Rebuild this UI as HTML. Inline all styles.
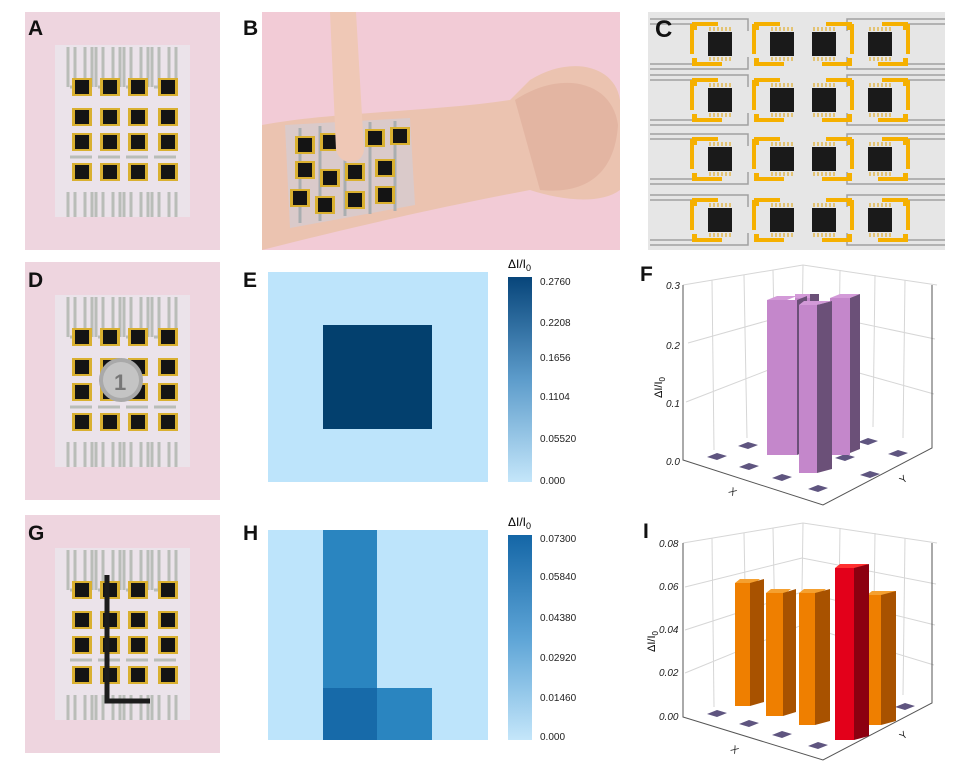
<!DOCTYPE html>
<html><head><meta charset="utf-8"><style>
html,body{margin:0;padding:0;background:#fff;}
svg{display:block;font-family:"Liberation Sans",Arial,sans-serif;}
.lb{font-weight:bold;font-size:21px;fill:#111}
.tk{font-size:10px;fill:#222}
</style></head><body>
<svg width="955" height="776" viewBox="0 0 955 776" xmlns="http://www.w3.org/2000/svg">
<defs>
<g id="dev"><rect x="-10" y="-9" width="20" height="18" fill="#d9b030"/><rect x="-7" y="-7" width="14" height="14" fill="#141414"/></g>
<g id="cdev"><path d="M-30,-20 h26 M-30,-20 v30 M-30,20 h30" stroke="#f5b000" stroke-width="4" fill="none"/><rect x="-30" y="-22" width="5" height="8" fill="#f5b000"/><rect x="-30" y="14" width="5" height="8" fill="#f5b000"/><rect x="-14" y="-12" width="24" height="24" fill="#1a1a1a"/><path d="M-12,-17v4M-8,-17v4M-4,-17v4M0,-17v4M4,-17v4M8,-17v4M-12,13v4M-8,13v4M-4,13v4M0,13v4M4,13v4M8,13v4" stroke="#e0a000" stroke-width="1"/></g>
<g id="cdevr"><use href="#cdev" transform="scale(-1,1)"/></g>
<g id="sheet">
<rect x="0" y="0" width="195" height="238" fill="#eed5df"/>
<rect x="30" y="33" width="135" height="172" fill="#ebe3ea"/>
<g stroke="#b9bdb8" stroke-width="3" fill="none">
<path d="M43,35v40M50,35v40M60,35v40M67,35v40 M71,35v40M78,35v40M88,35v40M95,35v40 M99,35v40M106,35v40M116,35v40M123,35v40 M127,35v40M134,35v40M144,35v40M151,35v40"/>
<path d="M43,180v25M50,180v25M60,180v25M67,180v25 M71,180v25M78,180v25M88,180v25M95,180v25 M99,180v25M106,180v25M116,180v25M123,180v25 M127,180v25M134,180v25M144,180v25M151,180v25"/>
<path d="M45,75h22M73,75h22M101,75h22M129,75h22M45,145h22M73,145h22M101,145h22M129,145h22"/>
</g>
<use href="#dev" x="57" y="75"/><use href="#dev" x="85" y="75"/><use href="#dev" x="113" y="75"/><use href="#dev" x="143" y="75"/>
<use href="#dev" x="57" y="105"/><use href="#dev" x="85" y="105"/><use href="#dev" x="113" y="105"/><use href="#dev" x="143" y="105"/>
<use href="#dev" x="57" y="130"/><use href="#dev" x="85" y="130"/><use href="#dev" x="113" y="130"/><use href="#dev" x="143" y="130"/>
<use href="#dev" x="57" y="160"/><use href="#dev" x="85" y="160"/><use href="#dev" x="113" y="160"/><use href="#dev" x="143" y="160"/>
</g>
<linearGradient id="cb" x1="0" y1="1" x2="0" y2="0"><stop offset="0" stop-color="#c4e6fa"/><stop offset="0.5" stop-color="#5d9ccb"/><stop offset="1" stop-color="#07457a"/></linearGradient>
<linearGradient id="cb2" x1="0" y1="1" x2="0" y2="0"><stop offset="0" stop-color="#c4e6fa"/><stop offset="0.5" stop-color="#5da4d6"/><stop offset="1" stop-color="#1466a6"/></linearGradient>
</defs>

<!-- A -->
<use href="#sheet" x="25" y="12"/>
<text class="lb" x="28" y="35">A</text>
<!-- B -->
<rect x="262" y="12" width="358" height="238" fill="#f2cbd6"/>
<path d="M262,125 C330,112 430,112 510,100 L530,80 C570,55 615,65 620,100 L620,190 C600,205 560,200 530,190 C450,205 360,225 262,250 Z" fill="#ebc3b0"/>
<path d="M515,100 C560,70 612,80 618,125 C615,170 590,195 540,190 Z" fill="#e3b5a2"/>
<path d="M285,125 L410,118 L415,205 L290,228 Z" fill="#d8cbcd" opacity="0.9"/>
<g stroke="#a9aeb0" stroke-width="3"><path d="M300,128v95M320,126v95M345,124v92M370,122v92M395,121v90"/></g>
<use href="#dev" x="305" y="145"/><use href="#dev" x="330" y="142"/><use href="#dev" x="375" y="138"/><use href="#dev" x="400" y="136"/>
<use href="#dev" x="305" y="170"/><use href="#dev" x="330" y="178"/><use href="#dev" x="355" y="172"/><use href="#dev" x="385" y="168"/>
<use href="#dev" x="300" y="198"/><use href="#dev" x="325" y="205"/><use href="#dev" x="355" y="200"/><use href="#dev" x="385" y="195"/>
<path d="M330,12 L356,12 L364,150 C362,166 340,166 336,150 Z" fill="#efc8b6"/>
<text class="lb" x="243" y="35">B</text>
<!-- C -->
<rect x="648" y="12" width="297" height="238" fill="#e6e6e6"/>
<g stroke="#a0a0a0" stroke-width="1.5" fill="none">
<path d="M650,19h98v12M650,24h43M650,64h45M650,69h98v-12M945,19h-98v12M945,24h-55M945,64h-55M945,69h-98v-12"/>
<path d="M650,75h98v12M650,80h43M650,120h45M650,125h98v-12M945,75h-98v12M945,80h-55M945,120h-55M945,125h-98v-12"/>
<path d="M650,134h98v12M650,139h43M650,179h45M650,184h98v-12M945,134h-98v12M945,139h-55M945,179h-55M945,184h-98v-12"/>
<path d="M650,195h98v12M650,200h43M650,240h45M650,245h98v-12M945,195h-98v12M945,200h-55M945,240h-55M945,245h-98v-12"/>
</g>
<use href="#cdev" x="722" y="44"/><use href="#cdev" x="784" y="44"/><use href="#cdevr" x="822" y="44"/><use href="#cdevr" x="878" y="44"/>
<use href="#cdev" x="722" y="100"/><use href="#cdev" x="784" y="100"/><use href="#cdevr" x="822" y="100"/><use href="#cdevr" x="878" y="100"/>
<use href="#cdev" x="722" y="159"/><use href="#cdev" x="784" y="159"/><use href="#cdevr" x="822" y="159"/><use href="#cdevr" x="878" y="159"/>
<use href="#cdev" x="722" y="220"/><use href="#cdev" x="784" y="220"/><use href="#cdevr" x="822" y="220"/><use href="#cdevr" x="878" y="220"/>
<text class="lb" x="655" y="37" style="font-size:24px">C</text>

<!-- D -->
<use href="#sheet" x="25" y="262"/>
<circle cx="121" cy="380" r="22" fill="#a9a9a9"/><circle cx="121" cy="380" r="18" fill="#c4c4c4"/>
<text x="114" y="390" style="font-size:22px;fill:#777;font-weight:bold">1</text>
<text class="lb" x="28" y="287">D</text>
<!-- E -->
<rect x="268" y="272" width="220" height="210" fill="#bde4fb"/>
<rect x="323" y="325" width="109" height="104" fill="#03406e"/>
<rect x="508" y="277" width="24" height="205" fill="url(#cb)"/>
<text x="508" y="268" style="font-size:12px">ΔI/I<tspan dy="3" font-size="9">0</tspan></text>
<g class="tk"><text x="540" y="285">0.2760</text><text x="540" y="326">0.2208</text><text x="540" y="361">0.1656</text><text x="540" y="400">0.1104</text><text x="540" y="442">0.05520</text><text x="540" y="484">0.000</text></g>
<text class="lb" x="243" y="287">E</text>
<!-- F -->
<g stroke="#d6d6d6" stroke-width="1" fill="none">
<path d="M683,285L803,265L937,285M803,265L801,403"/>
<path d="M686,402L802,357L934,394M688,343L802,311L935,339M712,280L714,450M744,275L747,438M773,270L776,426M840,270L838,414M875,275L873,427M905,280L903,438"/>
</g>
<path d="M683,285V460L823,505L932,448V285" stroke="#555" fill="none" stroke-width="1"/>
<g fill="#5f5580">
<path d="M707,457l10,-4l10,3l-10,4z"/><path d="M739,467l10,-4l10,3l-10,4z"/><path d="M772,478l10,-4l10,3l-10,4z"/><path d="M808,489l10,-4l10,3l-10,4z"/>
<path d="M738,446l10,-4l10,3l-10,4z"/><path d="M858,442l10,-4l10,3l-10,4z"/><path d="M835,458l10,-4l10,3l-10,4z"/><path d="M888,454l10,-4l10,3l-10,4z"/><path d="M860,475l10,-4l10,3l-10,4z"/>
</g>
<g>
<path d="M795,298h23l0,-4h-23z" fill="#d39ad8"/><rect x="795" y="298" width="15" height="150" fill="#c487cb"/><rect x="810" y="294" width="9" height="154" fill="#6b5078"/>
<path d="M767,300l10,-4h20l-10,4z" fill="#d39ad8"/><rect x="767" y="300" width="30" height="155" fill="#c487cb"/><path d="M797,300l10,-4v155l-10,4z" fill="#6b5078"/>
<path d="M830,298l10,-4h20l-10,4z" fill="#d39ad8"/><rect x="830" y="298" width="20" height="157" fill="#c487cb"/><path d="M850,298l10,-4v155l-10,4z" fill="#6b5078"/>
<path d="M799,305l5,-4h28l-15,4z" fill="#d39ad8"/><rect x="799" y="305" width="18" height="168" fill="#c487cb"/><path d="M817,305l15,-4v168l-15,4z" fill="#6b5078"/>
</g>
<g class="tk" font-style="italic"><text x="666" y="289">0.3</text><text x="666" y="349">0.2</text><text x="666" y="407">0.1</text><text x="666" y="465">0.0</text></g>
<text x="0" y="0" style="font-size:11px" transform="translate(662,398) rotate(-90)">ΔI/I<tspan dy="3" font-size="8">0</tspan></text>
<text x="728" y="492" class="tk" transform="rotate(40 728 492)">X</text>
<text x="903" y="484" class="tk" transform="rotate(-40 903 484)">Y</text>
<text class="lb" x="640" y="281">F</text>

<!-- G -->
<use href="#sheet" x="25" y="515"/>
<path d="M107,575V701H150" stroke="#1c1c1c" stroke-width="5" fill="none"/>
<text class="lb" x="28" y="540">G</text>
<!-- H -->
<rect x="268" y="530" width="220" height="210" fill="#bde4fb"/>
<rect x="323" y="530" width="54" height="158" fill="#2a85c0"/>
<rect x="323" y="688" width="54" height="52" fill="#176aa9"/>
<rect x="377" y="688" width="55" height="52" fill="#2a85c0"/>
<rect x="508" y="535" width="24" height="205" fill="url(#cb2)"/>
<text x="508" y="526" style="font-size:12px">ΔI/I<tspan dy="3" font-size="9">0</tspan></text>
<g class="tk"><text x="540" y="542">0.07300</text><text x="540" y="580">0.05840</text><text x="540" y="621">0.04380</text><text x="540" y="661">0.02920</text><text x="540" y="701">0.01460</text><text x="540" y="740">0.000</text></g>
<text class="lb" x="243" y="540">H</text>
<!-- I -->
<g stroke="#d6d6d6" stroke-width="1" fill="none">
<path d="M683,543L803,523L937,543M803,523L801,660"/>
<path d="M685,673L802,625L934,665M685,630L802,592L935,625M685,587L802,558L936,584M712,538L714,707M744,533L747,695M773,528L776,685M840,528L838,672M875,533L873,684M905,538L903,695"/>
</g>
<path d="M683,543V717L823,760L932,703V543" stroke="#555" fill="none" stroke-width="1"/>
<g fill="#5f5580">
<path d="M707,714l10,-4l10,3l-10,4z"/><path d="M739,724l10,-4l10,3l-10,4z"/><path d="M772,735l10,-4l10,3l-10,4z"/><path d="M808,746l10,-4l10,3l-10,4z"/><path d="M895,707l10,-4l10,3l-10,4z"/>
</g>
<g>
<path d="M735,583l5,-4h20l-5,4z" fill="#f5a030"/><rect x="735" y="583" width="15" height="123" fill="#ef7f00"/><path d="M750,583l14,-4v123l-14,4z" fill="#a85200"/>
<path d="M766,593l5,-4h20l-5,4z" fill="#f5a030"/><rect x="766" y="593" width="17" height="123" fill="#ef7f00"/><path d="M783,593l13,-4v123l-13,4z" fill="#a85200"/>
<path d="M799,593l5,-4h22l-5,4z" fill="#f5a030"/><rect x="799" y="593" width="16" height="132" fill="#ef7f00"/><path d="M815,593l15,-4v132l-15,4z" fill="#a85200"/>
<path d="M867,595l5,-4h24l-5,4z" fill="#f5a030"/><rect x="867" y="595" width="14" height="130" fill="#ef7f00"/><path d="M881,595l15,-4v130l-15,4z" fill="#a85200"/>
<path d="M835,568l5,-4h28l-5,4z" fill="#ff3030"/><rect x="835" y="568" width="19" height="172" fill="#e3001a"/><path d="M854,568l15,-4v172l-15,4z" fill="#8c0010"/>
</g>
<g class="tk" font-style="italic"><text x="659" y="547">0.08</text><text x="659" y="590">0.06</text><text x="659" y="633">0.04</text><text x="659" y="676">0.02</text><text x="659" y="720">0.00</text></g>
<text x="0" y="0" style="font-size:11px" transform="translate(655,652) rotate(-90)">ΔI/I<tspan dy="3" font-size="8">0</tspan></text>
<text x="730" y="750" class="tk" transform="rotate(40 730 750)">X</text>
<text x="903" y="740" class="tk" transform="rotate(-40 903 740)">Y</text>
<text class="lb" x="643" y="538">I</text>
</svg>
</body></html>
